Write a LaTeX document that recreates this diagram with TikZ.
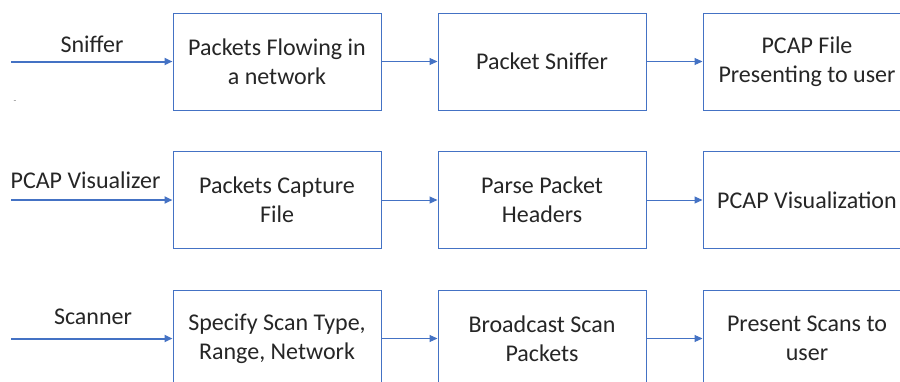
\documentclass[tikz,border=0pt]{standalone}
\usepackage{fontspec}
\setmainfont{Carlito}
\usetikzlibrary{arrows.meta}
\definecolor{obl}{HTML}{4472C4}
\begin{document}
\begin{tikzpicture}[x=1pt,y=-1pt,
  box/.style={draw=obl,line width=1pt,minimum width=208pt,minimum height=97pt,
    align=center,inner sep=0pt,font=\fontsize{24}{29}\selectfont,text=black!85},
  flow/.style={draw=obl,line width=1pt,-{Triangle[length=8pt,width=7pt]}},
  entry/.style={draw=obl,line width=2pt,-{Triangle[length=8pt,width=7pt]}},
  lab/.style={anchor=base,inner sep=0pt,font=\fontsize{24}{29}\selectfont,text=black!85}]
\useasboundingbox (0,0) rectangle (900,381);
\clip (0,0) rectangle (900,381);
\fill[white] (0,0) rectangle (900,381);
% row 1
\node[box] (a1) at (277,61.5) {Packets Flowing in\\a network};
\node[box] (a2) at (542,61.5) {Packet Sniffer};
\node[box] (a3) at (807,61.5) {PCAP File\\Presenting to user};
\coordinate (s1) at (11,61.5);
\draw[entry] (s1) -- (a1.west);
\draw[flow] (a1) -- (a2);
\draw[flow] (a2) -- (a3);
\node[lab] (l1) at (92,52) {Sniffer};
\node[text=gray,inner sep=0pt,font=\fontsize{9}{9}\selectfont] (dash) at (15,102) {-};
% row 2
\node[box] (b1) at (277,200) {Packets Capture\\File};
\node[box] (b2) at (542,200) {Parse Packet\\Headers};
\node[box] (b3) at (807,200) {PCAP Visualization};
\coordinate (s2) at (11,200);
\draw[entry] (s2) -- (b1.west);
\draw[flow] (b1) -- (b2);
\draw[flow] (b2) -- (b3);
\node[lab] (l2) at (85.5,188) {PCAP Visualizer};
% row 3
\node[box] (c1) at (277,338.5) {Specify Scan Type,\\Range, Network};
\node[box] (c2) at (542,338.5) {Broadcast Scan\\Packets};
\node[box] (c3) at (807,338.5) {Present Scans to\\user};
\coordinate (s3) at (11,338.5);
\draw[entry] (s3) -- (c1.west);
\draw[flow] (c1) -- (c2);
\draw[flow] (c2) -- (c3);
\node[lab] (l3) at (93,324) {Scanner};
\end{tikzpicture}
\end{document}
